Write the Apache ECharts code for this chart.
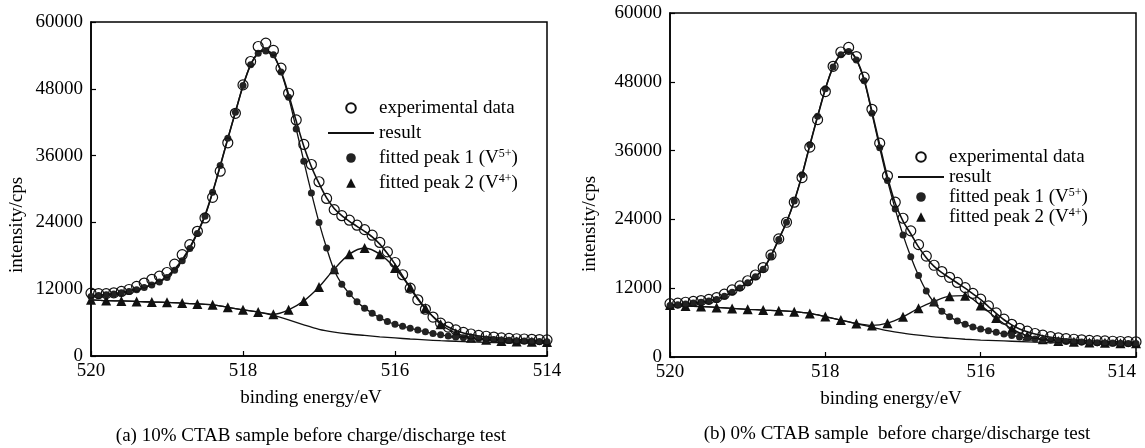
<!DOCTYPE html>
<html><head><meta charset="utf-8">
<script src="https://cdn.jsdelivr.net/npm/echarts@6/dist/echarts.min.js"></script>
<style>html,body{margin:0;padding:0;background:#fff}#c{width:1145px;height:448px}</style>
</head><body><div id="c"></div>
<script>
// binding energies (eV)
const energyFine = [520.0,519.9,519.8,519.7,519.6,519.5,519.4,519.3,519.2,519.1,519.0,518.9,518.8,518.7,518.6,518.5,518.4,518.3,518.2,518.1,518.0,517.9,517.8,517.7,517.6,517.5,517.4,517.3,517.2,517.1,517.0,516.9,516.8,516.7,516.6,516.5,516.4,516.3,516.2,516.1,516.0,515.9,515.8,515.7,515.6,515.5,515.4,515.3,515.2,515.1,515.0,514.9,514.8,514.7,514.6,514.5,514.4,514.3,514.2,514.1,514.0];
const energyCoarse = [520.0,519.8,519.6,519.4,519.2,519.0,518.8,518.6,518.4,518.2,518.0,517.8,517.6,517.4,517.2,517.0,516.8,516.6,516.4,516.2,516.0,515.8,515.6,515.4,515.2,515.0,514.8,514.6,514.4,514.2,514.0];

// (a) 10% CTAB
const expA = [11300,11200,11200,11350,11600,11950,12500,13100,13750,14350,
15000,16500,18200,20000,22400,24800,28500,33200,38300,43600,
48700,52900,55600,56200,54900,51700,47200,42400,38000,34400,
31300,28300,26300,25200,24400,23500,22700,21700,20400,18700,
16800,14600,12200,10100,8400,7000,5900,5200,4700,4250,
3950,3700,3550,3400,3250,3150,3100,3050,3000,2950,2900];
const resultA = [10800,10900,11050,11200,11400,11650,11950,12350,12800,13400,
14300,15600,17300,19500,22200,25300,29400,34100,39000,43800,
48500,52300,54400,54900,54000,51200,47000,42200,37700,34000,
31000,28400,26500,25200,24200,23300,22400,21400,20100,18400,
16500,14400,12200,10200,8500,7100,6000,5200,4600,4150,
3850,3600,3450,3300,3150,3050,2950,2900,2850,2800,2750];
const peak1A = [10700,10850,11000,11150,11350,11600,11900,12300,12750,13300,
14100,15400,17100,19300,22000,25100,29400,34200,39100,43800,
48600,52300,54400,54800,54100,51000,46500,40800,35000,29300,
24000,19400,15400,12900,11200,9750,8600,7700,6850,6200,
5700,5350,5000,4650,4350,4050,3800,3600,3420,3290,
3170,3090,3020,2950,2880,2810,2750,2700,2650,2610,2570];
const peak2A = [10100,9950,9900,9800,9700,9640,9500,9350,9200,8750,
8300,7900,7500,8300,9900,12400,15600,18300,19400,18300,
15800,12300,8600,5700,4100,3300,2900,2700,2600,2550,2500];
const backgroundA = [10100,9950,9900,9800,9700,9640,9500,9350,9200,8750,
8300,7900,7300,6500,5600,4800,4300,3950,3700,3450,
3250,3050,2900,2750,2650,2550,2450,2400,2350,2320,2300];

// (b) 0% CTAB
const expB = [9300,9400,9550,9700,9850,10050,10350,10950,11700,12400,
13300,14300,15600,17800,20600,23500,27000,31300,36600,41400,
46300,50700,53200,54000,52400,48800,43200,37300,31600,27000,
24200,22000,19600,17600,16000,14900,13900,13000,12100,11100,
10100,8900,7700,6600,5700,5000,4500,4100,3800,3550,
3350,3200,3100,3000,2900,2850,2800,2750,2700,2680,2650];
const resultB = [9050,9150,9300,9450,9600,9800,10100,10650,11350,12100,
13000,14050,15350,17650,20550,23500,27200,31700,36900,41900,
46700,50600,52800,53400,51900,48400,42800,37000,31400,26800,
23700,21500,19200,17300,15800,14700,13800,12900,12000,11000,
10000,8800,7600,6500,5600,4900,4400,4000,3700,3450,
3250,3100,3000,2900,2820,2760,2710,2670,2640,2610,2590];
const peak1B = [9000,9100,9250,9400,9550,9750,10050,10600,11300,12050,
12950,14000,15300,17600,20500,23500,27200,31800,37000,42000,
46800,50600,52700,53300,51800,48200,42500,36500,30800,25800,
21300,17500,14200,11500,9500,8000,7000,6300,5700,5250,
4900,4600,4300,4000,3750,3500,3300,3150,3000,2900,
2800,2720,2650,2600,2550,2500,2460,2430,2400,2370,2340];
const peak2B = [9050,8900,8800,8650,8480,8320,8180,8080,7900,7600,
7050,6450,5850,5500,5900,7000,8500,9700,10600,10700,
9000,6800,4900,3700,3100,2800,2650,2550,2480,2420,2380];
const backgroundB = [9050,8900,8800,8650,8480,8320,8180,8080,7900,7600,
7050,6450,5800,5200,4600,4150,3800,3500,3300,3100,
2950,2850,2750,2650,2550,2480,2420,2380,2350,2320,2300];

// axes / labels
const xRange = [514, 520];
const xStep = 2;
const yRange = [0, 60000];
const yStep = 12000;
const seriesNames = ['experimental data', 'result', 'fitted peak 1 (V5+)', 'fitted peak 2 (V4+)'];
const xAxisName = 'binding energy/eV';
const yAxisName = 'intensity/cps';
const captions = ['(a) 10% CTAB sample before charge/discharge test', '(b) 0% CTAB sample  before charge/discharge test'];

const FONT = "'Liberation Serif','Times New Roman',serif";
const pair = (xs, ys) => xs.map((x, i) => [x, ys[i]]);

function panelSeries(k, exp, res, p1, p2, bg) {
  const base = {type: 'line', xAxisIndex: k, yAxisIndex: k, animation: false, silent: true};
  return [
    Object.assign({}, base, {name: 'background', data: pair(energyCoarse, bg), symbol: 'none', smooth: 0.3,
      lineStyle: {color: '#111', width: 1.3}, z: 2}),
    Object.assign({}, base, {name: seriesNames[1], data: pair(energyFine, res), symbol: 'none', smooth: 0.3,
      lineStyle: {color: '#111', width: 1.6}, itemStyle: {color: '#111'}, z: 3}),
    Object.assign({}, base, {name: seriesNames[3], data: pair(energyCoarse, p2), symbol: 'triangle', symbolSize: 10, smooth: 0.3,
      showAllSymbol: true, lineStyle: {color: '#111', width: 1.3}, itemStyle: {color: '#111'}, z: 4}),
    Object.assign({}, base, {name: seriesNames[2], data: pair(energyFine, p1), symbol: 'circle', symbolSize: 7, smooth: 0.3,
      showAllSymbol: true, lineStyle: {color: '#111', width: 1.3}, itemStyle: {color: '#222'}, z: 5}),
    Object.assign({}, base, {name: seriesNames[0], data: pair(energyFine, exp), symbol: 'circle', symbolSize: 10,
      showAllSymbol: true, lineStyle: {width: 0, color: '#111'},
      itemStyle: {color: 'rgba(255,255,255,0)', borderColor: '#111', borderWidth: 1.2}, z: 6})
  ];
}

function xAxis(k, namePad, extraLabel) {
  return {type: 'value', gridIndex: k, min: xRange[0], max: xRange[1], interval: xStep, inverse: true,
    name: xAxisName, nameLocation: 'middle', nameGap: 33,
    nameTextStyle: {fontFamily: FONT, fontSize: 19, color: '#000', padding: namePad},
    axisLine: {show: true, onZero: false, lineStyle: {color: '#000', width: 1.5}},
    axisTick: {show: true, inside: true, length: 5, lineStyle: {color: '#000', width: 1.2}},
    axisLabel: Object.assign({show: true, margin: 6, fontFamily: FONT, fontSize: 19, color: '#000', showMinLabel: true, showMaxLabel: true,
      formatter: v => String(v)}, extraLabel || {}),
    splitLine: {show: false}};
}
function yAxis(k, gap, namePad) {
  return {type: 'value', gridIndex: k, min: yRange[0], max: yRange[1], interval: yStep,
    name: yAxisName, nameLocation: 'middle', nameGap: gap,
    nameTextStyle: {fontFamily: FONT, fontSize: 19, color: '#000', padding: namePad},
    axisLine: {show: true, onZero: false, lineStyle: {color: '#000', width: 1.5}},
    axisTick: {show: true, inside: true, length: 5, lineStyle: {color: '#000', width: 1.2}},
    axisLabel: {show: true, margin: 8, fontFamily: FONT, fontSize: 19, color: '#000', formatter: v => String(v)},
    splitLine: {show: false}};
}
function legend(left, top, gap) {
  return {show: true, orient: 'vertical', left: left, top: top, itemWidth: 46, itemHeight: 12, itemGap: gap,
    selectedMode: false, padding: 0,
    data: [
      {name: seriesNames[0]},
      {name: seriesNames[1], itemStyle: {color: 'rgba(0,0,0,0)', borderWidth: 0, opacity: 0}},
      {name: seriesNames[2], lineStyle: {width: 0}},
      {name: seriesNames[3], lineStyle: {width: 0}}
    ],
    formatter: n => n.replace(/V(\d\+)/, 'V{s|$1}'),
    textStyle: {fontFamily: FONT, fontSize: 19, color: '#000', lineHeight: 20,
      rich: {s: {fontFamily: FONT, fontSize: 12, color: '#000', verticalAlign: 'top', lineHeight: 12}}}};
}

const chart = echarts.init(document.getElementById('c'), null, {renderer: 'canvas'});
chart.setOption({
  animation: false,
  backgroundColor: '#fff',
  grid: [
    {left: 91, top: 22, width: 456, height: 334, show: true, borderColor: '#000', borderWidth: 1.5, containLabel: false, outerBoundsMode: 'none'},
    {left: 670, top: 13, width: 466, height: 344, show: true, borderColor: '#000', borderWidth: 1.5, containLabel: false, outerBoundsMode: 'none'}
  ],
  xAxis: [xAxis(0, [0, 16, 0, 0]), xAxis(1, [0, 24, 0, 0], {alignMinLabel: 'right'})],
  yAxis: [yAxis(0, 64, [0, 72, 0, 0]), yAxis(1, 70, [0, 78, 0, 0])],
  legend: [legend(327, 98, 5), legend(897, 147, 0)],
  series: [].concat(panelSeries(0, expA, resultA, peak1A, peak2A, backgroundA),
                    panelSeries(1, expB, resultB, peak1B, peak2B, backgroundB)),
  graphic: [
    {type: 'text', x: 311, y: 436, style: {text: captions[0], fontFamily: FONT, fontSize: 19, fill: '#000', align: 'center', verticalAlign: 'middle'}},
    {type: 'text', x: 897, y: 434, style: {text: captions[1], fontFamily: FONT, fontSize: 19, fill: '#000', align: 'center', verticalAlign: 'middle'}}
  ]
});
</script>
</body></html>
